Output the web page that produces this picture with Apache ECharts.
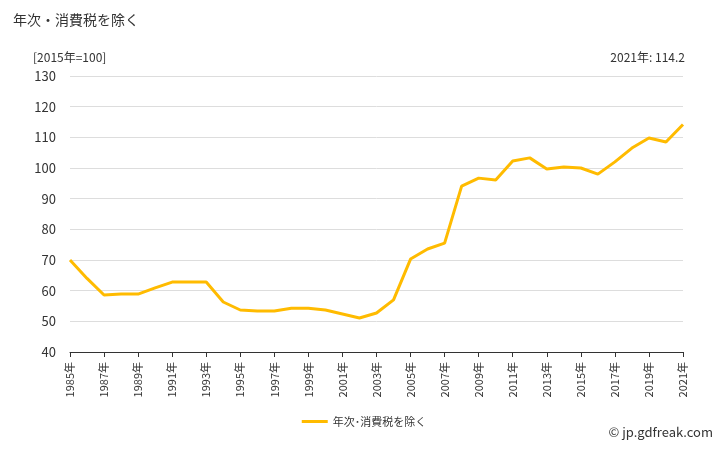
<!DOCTYPE html>
<html><head><meta charset="utf-8">
<script src="https://cdn.jsdelivr.net/npm/echarts@6/dist/echarts.min.js"></script>
<style>body{margin:0}#c{width:728px;height:450px}</style></head>
<body><div id="c"></div>
<script>
const years=[];for(let y=1985;y<=2021;y++)years.push(y+'年');
const values=[70,64,58.6,58.9,58.9,60.9,62.8,62.8,62.8,56.3,53.7,53.4,53.4,54.3,54.3,53.7,52.4,51.1,52.7,57,70.3,73.6,75.5,94.1,96.7,96.1,102.3,103.3,99.7,100.3,100,98,102,106.5,109.8,108.5,114.2];
const seriesName='年次･消費税を除く';
const F='"Noto Sans CJK JP",sans-serif';
const c=echarts.init(document.getElementById('c'));
c.setOption({
 textStyle:{fontFamily:F},
 title:[{text:'年次・消費税を除く',left:8,top:8,textStyle:{fontSize:14,fontWeight:'normal',color:'#333',fontFamily:F}},
  {text:'[2015年=100]',left:28,top:46,textStyle:{fontSize:12,fontWeight:'normal',color:'#333',fontFamily:F}},
  {text:'2021年: 114.2',right:38,top:46,textStyle:{fontSize:12,fontWeight:'normal',color:'#333',fontFamily:F}},
  {text:'© jp.gdfreak.com',right:10,bottom:6,textStyle:{fontSize:13,fontWeight:'normal',color:'#333',fontFamily:F}}],
 grid:{left:70,right:45,top:76,bottom:98},
 legend:{bottom:18,left:'center',data:[{name:seriesName,icon:'rect'}],itemWidth:26,itemHeight:3,textStyle:{fontSize:11,color:'#333'}},
 xAxis:{type:'category',data:years,boundaryGap:false,
  axisLine:{lineStyle:{color:'#333'}},axisTick:{alignWithLabel:true,lineStyle:{color:'#333'}},
  axisLabel:{interval:1,rotate:90,fontSize:11,color:'#333',margin:10}},
 yAxis:{type:'value',min:40,max:130,interval:10,
  axisLabel:{fontSize:13,color:'#333',margin:14},splitLine:{lineStyle:{color:'#ddd'}}},
 series:[{name:seriesName,type:'line',data:values,showSymbol:false,symbol:'none',
  lineStyle:{color:'#FFBB00',width:3},itemStyle:{color:'#FFBB00'}}]
});
</script></body></html>
